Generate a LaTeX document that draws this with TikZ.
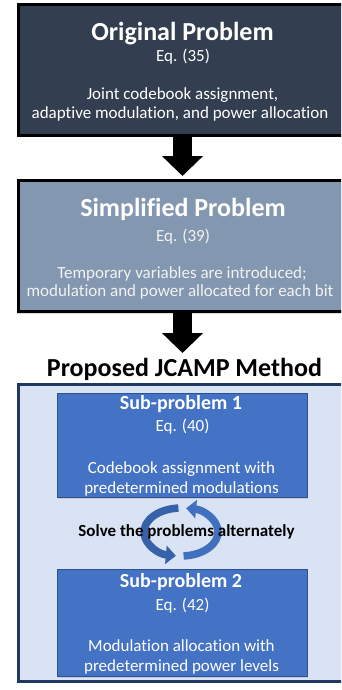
\documentclass[tikz,border=0pt]{standalone}
\usepackage{fontspec}
\setmainfont{Carlito}[Ligatures=NoCommon]
\usetikzlibrary{arrows.meta,shadows}
\definecolor{origfill}{HTML}{333F50}
\definecolor{simpfill}{HTML}{8497B0}
\definecolor{outerfill}{HTML}{DAE3F3}
\definecolor{outerline}{HTML}{203864}
\definecolor{subfill}{HTML}{4472C4}
\definecolor{subline}{HTML}{2F528F}
\definecolor{cycA}{HTML}{3761A8}
\definecolor{cycB}{HTML}{4070BE}
\definecolor{lighttext}{HTML}{F2F2F2}
\begin{document}
\begin{tikzpicture}[x=1pt,y=-1pt,
  bigbox/.style={draw=black, line width=3pt, rectangle, inner sep=0pt,
    drop shadow={opacity=0.3, shadow xshift=-1.5pt, shadow yshift=-2pt}},
  subbox/.style={draw=subline, line width=0.8pt, fill=subfill, rectangle, inner sep=0pt,
    minimum width=250pt, drop shadow={opacity=0.25, shadow xshift=1pt, shadow yshift=-1.5pt}},
  txt/.style={anchor=base, inner sep=0pt},
  titlef/.style={txt, font=\bfseries\fontsize{26}{30}\selectfont},
  subt/.style={txt, font=\bfseries\fontsize{20}{24}\selectfont},
  bodyf/.style={txt, font=\fontsize{17}{20}\selectfont},
  bigarrow/.style={line width=19pt, -{Triangle[width=40pt,length=20pt]}},
  cyc/.style={line width=7.5pt, -{Triangle[width=18pt,length=10pt]}}
]
\useasboundingbox (0,0) rectangle (341,690);
\clip (0,0) rectangle (341,690);

% Original problem
\node[bigbox, fill=origfill, minimum width=328pt, minimum height=130.5pt] (orig) at (182.5,69.75) {};
\node[titlef, text=white] (origT) at (182.5,41) {Original Problem};
\node[bodyf, text=white] (origE) at (183,62) {Eq. (35)};
\node[bodyf, text=white] (origL1) at (182.5,100) {Joint codebook assignment,};
\node[bodyf, text=white] (origL2) at (180,118) {adaptive modulation, and power allocation};

% Simplified problem
\node[bigbox, fill=simpfill, minimum width=328pt, minimum height=131pt] (simp) at (182.5,246) {};
\node[titlef, text=white] (simpT) at (183,216.5) {Simplified Problem};
\node[bodyf, text=lighttext] (simpE) at (183,241.5) {Eq. (39)};
\node[bodyf, text=lighttext] (simpL1) at (182,278) {Temporary variables are introduced;};
\node[bodyf, text=lighttext] (simpL2) at (180,296.5) {modulation and power allocated for each bit};

% arrows
\coordinate (a2end) at (182.5,353);
\draw[bigarrow, shorten >=3pt] (orig.south) -- (simp.north);
\draw[bigarrow] (simp.south) -- (a2end);

% Title
\node[titlef, text=black] (title) at (184.5,376.5) {Proposed JCAMP Method};

% Outer box
\node[draw=outerline, fill=outerfill, line width=3pt, rectangle, inner sep=0pt,
  minimum width=328pt, minimum height=297pt,
  drop shadow={opacity=0.25, shadow xshift=1pt, shadow yshift=-1.5pt}] (outer) at (182.5,533) {};

% Sub-problem 1
\node[subbox, minimum height=104pt] (sub1) at (182,445) {};
\node[subt, text=white] (sub1T) at (181,409) {Sub-problem 1};
\node[bodyf, text=white] (sub1E) at (182.5,431.5) {Eq. (40)};
\node[bodyf, text=white] (sub1L1) at (181.5,473) {Codebook assignment with};
\node[bodyf, text=white] (sub1L2) at (181.5,493) {predetermined modulations};

% Sub-problem 2
\node[subbox, minimum height=107pt] (sub2) at (182,622.5) {};
\node[subt, text=white] (sub2T) at (181,587) {Sub-problem 2};
\node[bodyf, text=white] (sub2E) at (182.5,610) {Eq. (42)};
\node[bodyf, text=white] (sub2L1) at (181.5,651.5) {Modulation allocation with};
\node[bodyf, text=white] (sub2L2) at (181.5,671.5) {predetermined power levels};

% circular arrows
\coordinate (cc) at (181,532);
\draw[cyc, draw=cycA] ([shift={(-94:37 and 24)}]cc) arc[start angle=-94, end angle=-262, x radius=37, y radius=24];
\draw[cyc, draw=cycB] ([shift={(86:37 and 24)}]cc) arc[start angle=86, end angle=-82, x radius=37, y radius=24];

\node[txt, font=\bfseries\fontsize{17}{20}\selectfont, text=black] (solve) at (186.5,536.5) {Solve the problems alternately};
\end{tikzpicture}
\end{document}
